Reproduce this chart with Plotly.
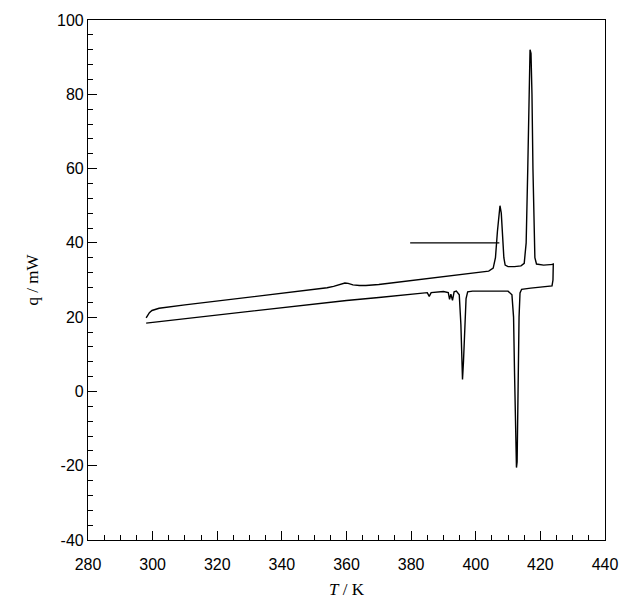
import plotly.graph_objects as go

# Heating run (upper trace): temperature in K, heat flow in mW
heat_T = [298.0, 298.4, 299.0, 299.8, 300.8, 302.0, 310.0, 320.0, 330.0, 340.0,
          350.0, 354.0, 356.0, 358.0, 359.5, 360.5, 362.0, 364.0, 366.0, 370.0,
          380.0, 390.0, 400.0, 404.0, 405.4, 406.1, 406.7, 407.2, 407.5, 407.9,
          408.3, 408.7, 409.1, 410.0, 412.0, 414.0, 415.0, 415.6, 416.1, 416.5,
          416.8, 417.1, 417.4, 417.7, 418.0, 418.3, 418.8, 421.0, 424.0]
heat_q = [19.8, 20.4, 21.2, 21.8, 22.1, 22.4, 23.3, 24.3, 25.3, 26.3,
          27.4, 27.9, 28.3, 28.9, 29.2, 29.1, 28.7, 28.5, 28.5, 28.8,
          29.8, 30.9, 31.9, 32.4, 33.2, 36.0, 43.0, 49.0, 50.0, 48.0,
          42.0, 36.0, 34.0, 33.6, 33.6, 33.8, 34.5, 40.0, 60.0, 80.0,
          92.0, 91.0, 80.0, 60.0, 42.0, 36.0, 34.3, 34.0, 34.2]

# Cooling run (lower trace)
cool_T = [298.0, 310.0, 320.0, 330.0, 340.0, 350.0, 360.0, 370.0, 380.0, 385.0,
          385.6, 386.2, 390.0, 391.5, 391.9, 392.3, 392.8, 393.3, 394.0, 394.9,
          395.4, 395.7, 395.9, 396.2, 396.6, 397.0, 397.5, 399.0, 402.0, 407.0,
          410.0, 411.2, 411.7, 412.0, 412.3, 412.6, 412.8, 413.0, 413.2, 413.4,
          413.7, 414.2, 417.0, 421.0, 423.6, 423.9, 424.0]
cool_q = [18.4, 19.6, 20.6, 21.6, 22.6, 23.6, 24.5, 25.3, 26.2, 26.6,
          25.6, 26.6, 26.9, 26.6, 24.8, 26.2, 24.5, 26.8, 27.0, 26.0,
          18.0, 8.0, 3.2, 8.0, 18.0, 25.0, 26.8, 27.0, 27.0, 27.0,
          27.0, 26.0, 20.0, 5.0, -10.0, -20.5, -19.0, -5.0, 10.0, 20.0,
          26.5, 27.5, 27.8, 28.2, 28.4, 30.0, 34.5]

# Reference marker line at 40 mW
mark_T = [379.7, 407.3]
mark_q = [40.0, 40.0]

x_ticks = [280, 300, 320, 340, 360, 380, 400, 420, 440]
y_ticks = [-40, -20, 0, 20, 40, 60, 80, 100]

line_style = dict(color="black", width=1.4)

fig = go.Figure()
fig.add_trace(go.Scatter(x=heat_T, y=heat_q, mode="lines", line=line_style))
fig.add_trace(go.Scatter(x=cool_T, y=cool_q, mode="lines", line=line_style))
fig.add_trace(go.Scatter(x=mark_T, y=mark_q, mode="lines", line=line_style))

axis_common = dict(
    showgrid=False, zeroline=False, showline=True, linecolor="black",
    linewidth=1.2, mirror=True, ticks="inside", ticklen=9, tickwidth=1.2,
    tickcolor="black", automargin=False,
    tickfont=dict(family="Liberation Sans, Arial, sans-serif", size=16, color="black"),
)

fig.update_layout(
    width=628, height=603,
    margin=dict(l=88, r=23, t=20, b=63),
    paper_bgcolor="white", plot_bgcolor="white",
    showlegend=False,
    xaxis=dict(
        range=[280, 440], tickvals=x_ticks, ticktext=[str(v) for v in x_ticks],
        ticklabelstandoff=10,
        minor=dict(dtick=5, ticks="inside", ticklen=5, tickwidth=1, tickcolor="black"),
        title=dict(text="<i>T</i> / K", standoff=10,
                   font=dict(family="Liberation Serif, Times New Roman, serif", size=17, color="black")),
        **axis_common,
    ),
    yaxis=dict(
        range=[-40, 100], tickvals=y_ticks, ticktext=[str(v) for v in y_ticks],
        minor=dict(dtick=4, ticks="inside", ticklen=5, tickwidth=1, tickcolor="black"),
        title=dict(text="q / mW", standoff=14,
                   font=dict(family="Liberation Serif, Times New Roman, serif", size=17, color="black")),
        **axis_common,
    ),
)

fig.write_html("out.html")
